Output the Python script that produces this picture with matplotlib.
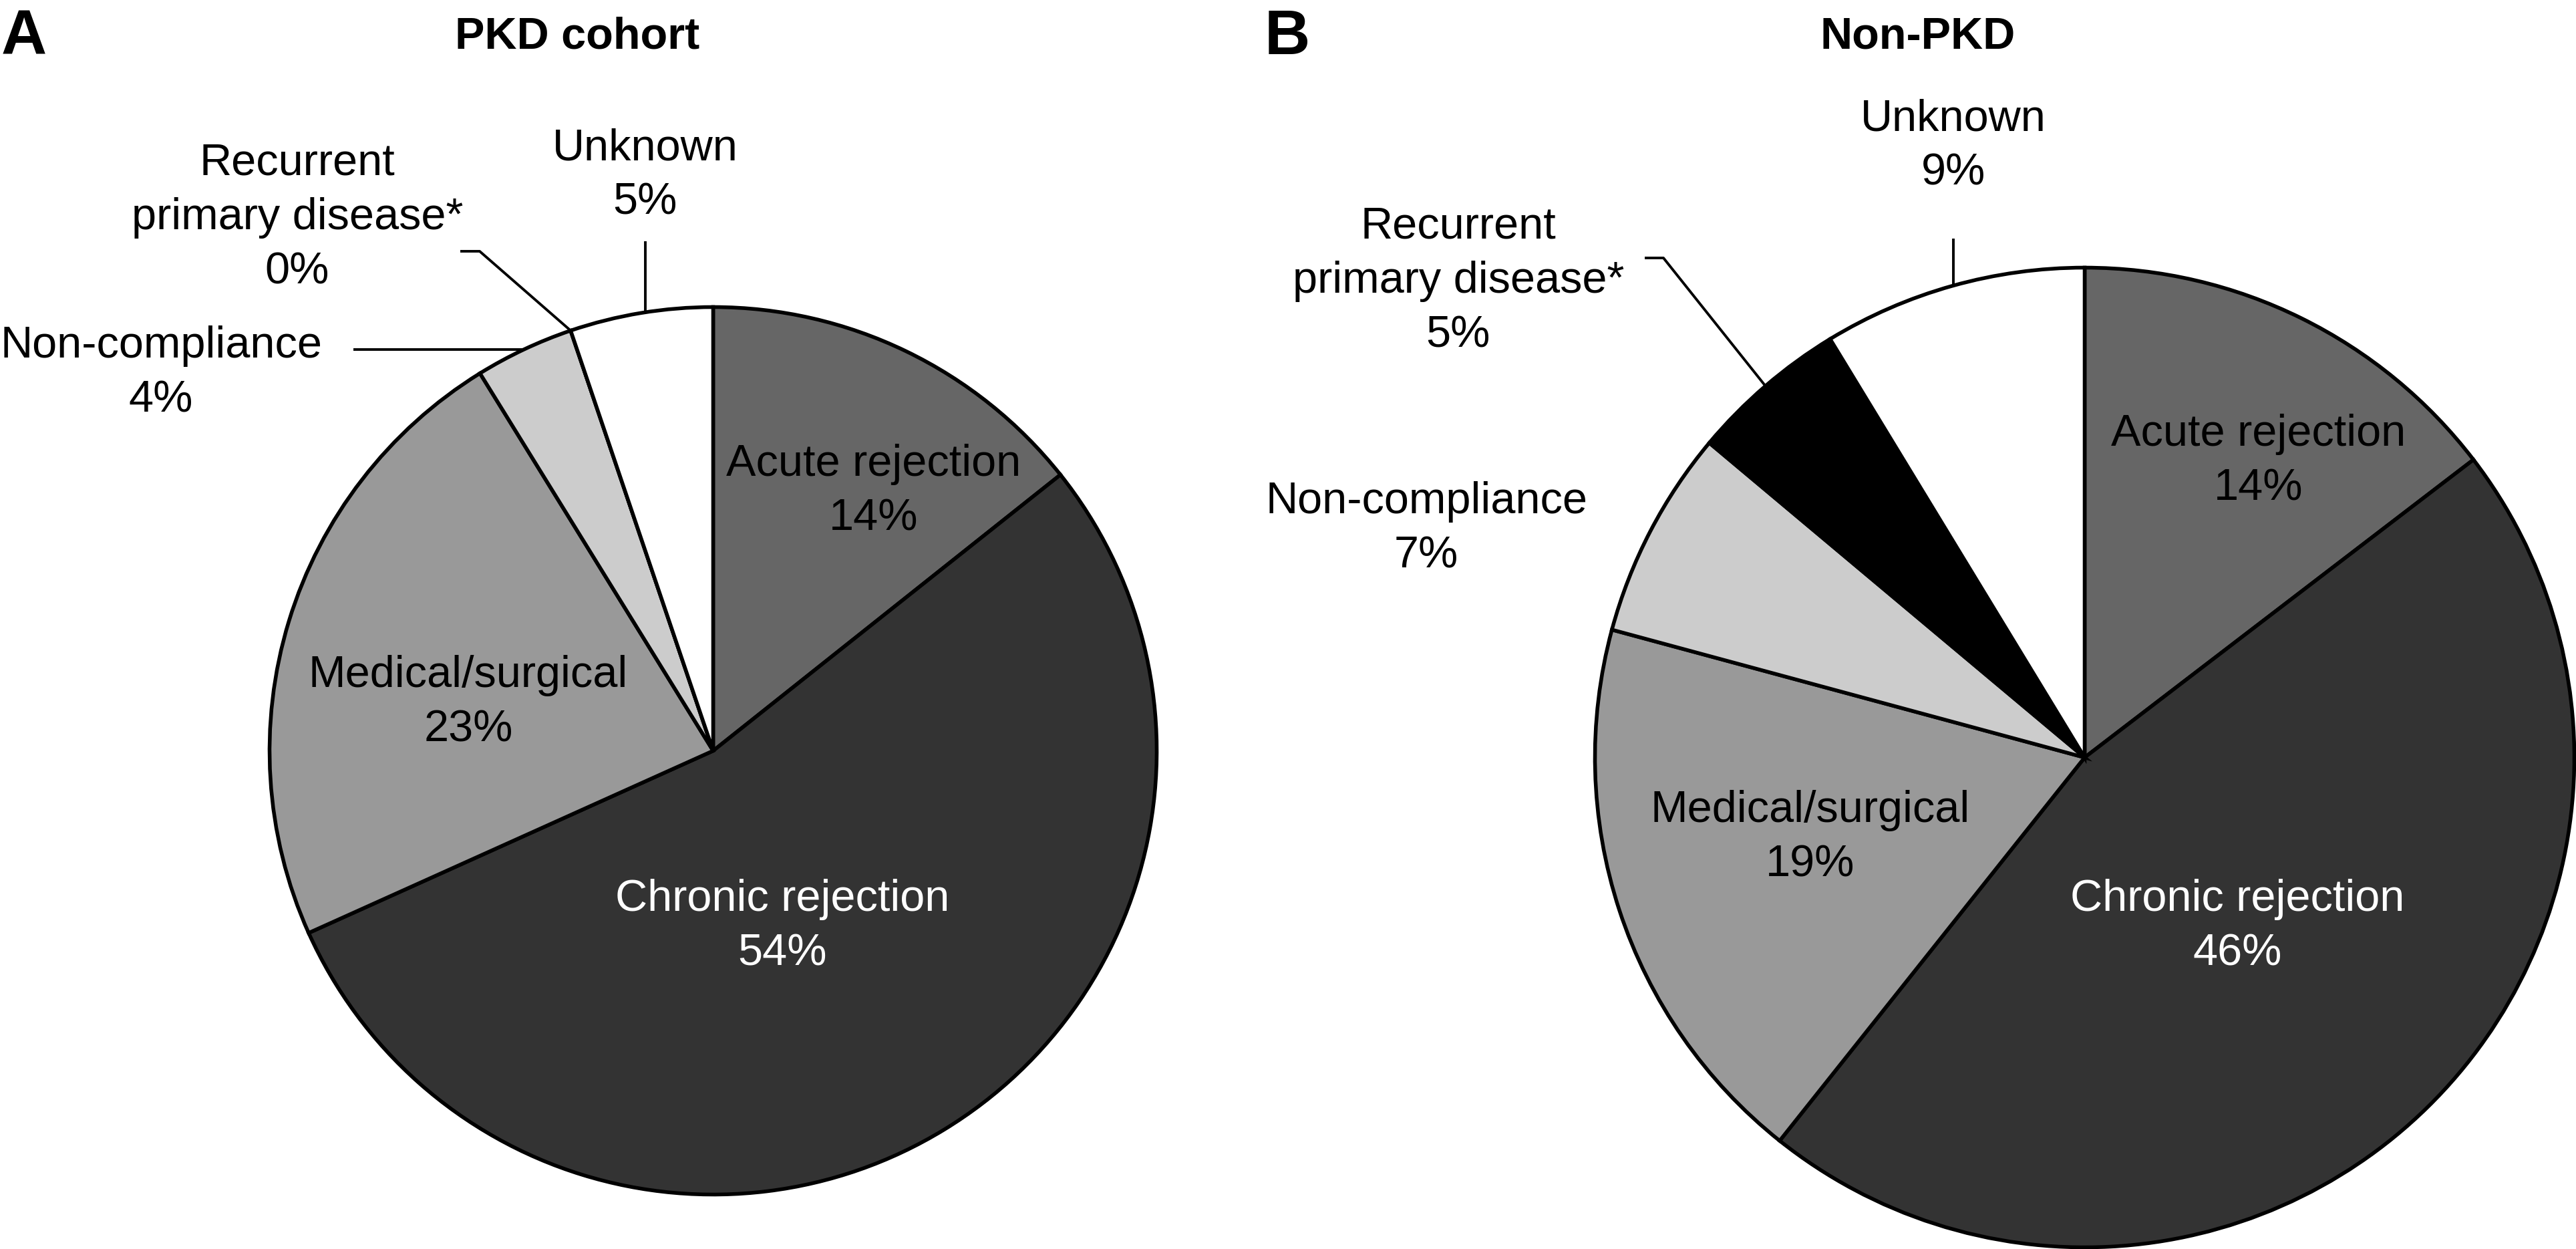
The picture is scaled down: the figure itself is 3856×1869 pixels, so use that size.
import numpy as np
import matplotlib.pyplot as plt

# Figure size in pixels (output at dpi 200)
W, H = 3856, 1869
plt.rcParams['font.family'] = ['Liberation Sans', 'DejaVu Sans']

categories = ['Acute rejection', 'Chronic rejection', 'Medical/surgical',
              'Non-compliance', 'Recurrent\nprimary disease*', 'Unknown']
pkd_values = [14.3, 53.9, 22.9, 3.6, 0.0, 5.2]
non_pkd_values = [14.6, 46.1, 18.5, 6.9, 5.2, 8.7]
pkd_labels = ['14%', '54%', '23%', '4%', '0%', '5%']
non_pkd_labels = ['14%', '46%', '19%', '7%', '5%', '9%']
colors = ['#666666', '#333333', '#999999', '#cccccc', '#000000', '#ffffff']

FS = 24
LW = 2.0
DY = 6  # small downward nudge for the label blocks

fig = plt.figure(figsize=(W / 200, H / 200), dpi=200)
ax = fig.add_axes([0, 0, 1, 1])


def edge_point(cx, cy, r, ang):
    a = np.deg2rad(ang)
    return cx + r * np.cos(a), cy + r * np.sin(a)


def panel(values, pcts, cx, cy_px, r, text_pos, leaders):
    cy = H - cy_px
    wedges, _ = ax.pie(values, colors=colors, startangle=90, counterclock=False,
                       center=(cx, cy), radius=r, frame=True,
                       wedgeprops=dict(edgecolor='black', linewidth=LW))
    for i, (x, y) in text_pos.items():
        ax.text(x, H - y - DY, categories[i] + '\n' + pcts[i], ha='center', va='center',
                fontsize=FS, linespacing=1.4,
                color='white' if i == 1 else 'black')
    for i, kind, pts in leaders:
        w = wedges[i]
        if kind == 'vertical':
            x0, y0 = pts
            y_edge = cy + np.sqrt(r ** 2 - (x0 - cx) ** 2)
            xs, ys = [x0, x0], [H - y0, y_edge]
        elif kind == 'horizontal':
            x0 = pts
            ex, ey = edge_point(cx, cy, r, (w.theta1 + w.theta2) / 2)
            xs, ys = [x0, ex], [ey, ey]
        else:
            (x0, y0), (x1, _) = pts
            ex, ey = edge_point(cx, cy, r, (w.theta1 + w.theta2) / 2)
            xs, ys = [x0, x1, ex], [H - y0, H - y0, ey]
        ax.plot(xs, ys, color='black', lw=1.4, solid_capstyle='butt')


# Panel A
panel(pkd_values, pkd_labels, 1067.5, 1123.5, 664,
      {0: (1308, 730), 1: (1171, 1381), 2: (701, 1046),
       3: (241, 553), 4: (445, 320), 5: (966, 257)},
      [(3, 'horizontal', 529),
       (4, 'elbow', ((689, 376), (718, None))),
       (5, 'vertical', (966, 361))])

# Panel B
panel(non_pkd_values, non_pkd_labels, 3120.5, 1133.5, 733,
      {0: (3381, 685), 1: (3349, 1381), 2: (2710, 1248),
       3: (2135, 786), 4: (2183, 415), 5: (2924, 213)},
      [(4, 'elbow', ((2462, 386), (2490, None))),
       (5, 'vertical', (2924, 357))])

ax.text(2, H - 81, 'A', fontsize=34, fontweight='bold', ha='left', va='baseline')
ax.text(1893, H - 81, 'B', fontsize=34, fontweight='bold', ha='left', va='baseline')
ax.text(864, H - 72, 'PKD cohort', fontsize=FS, fontweight='bold', ha='center', va='baseline')
ax.text(2871, H - 72, 'Non-PKD', fontsize=FS, fontweight='bold', ha='center', va='baseline')

ax.set_xlim(0, W)
ax.set_ylim(0, H)
ax.axis('off')

fig.savefig('out.png', dpi=200, facecolor='white')
